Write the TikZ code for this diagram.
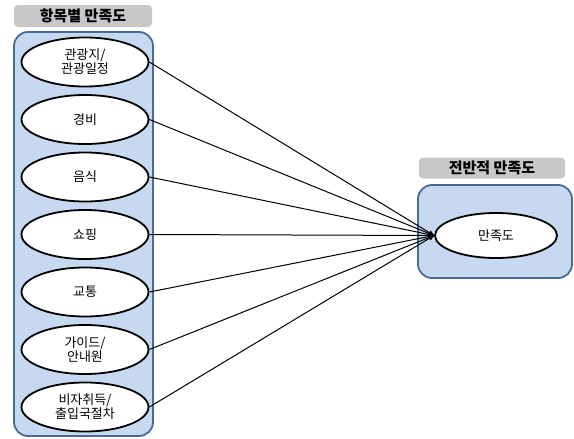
\documentclass[tikz,border=0pt]{standalone}
\usepackage{fontspec}
\setmainfont{Noto Sans CJK KR}
\usetikzlibrary{arrows,shapes.geometric}

\definecolor{boxblue}{RGB}{198,217,241}
\definecolor{boxline}{RGB}{74,106,150}
\definecolor{titlegray}{RGB}{200,200,200}

\begin{document}
\begin{tikzpicture}[->,>=stealth',x=1pt,y=1pt,node distance=57.5pt,line width=1pt]
   \tikzstyle{every node}=[font=\fontsize{13}{14}\selectfont]
   \tikzstyle{factor}=[ellipse,draw=black,line width=1.8pt,fill=white,minimum width=127pt,minimum height=49pt,inner sep=0pt,align=center]
   \tikzstyle{panel}=[rectangle,rounded corners=14pt,draw=boxline,line width=1.8pt,fill=boxblue]
   \tikzstyle{caption}=[rectangle,rounded corners=4pt,fill=titlegray,font=\fontsize{15}{17}\selectfont\bfseries]
   \useasboundingbox (0,0) rectangle (574,-439);

   % group boxes
   \node[caption,minimum width=138pt,minimum height=22pt] (cap1) at (83,-16) {항목별 만족도};
   \node[panel,minimum width=139pt,minimum height=404pt] (panel1) at (83.5,-234) {};
   \node[caption,minimum width=146pt,minimum height=21pt] (cap2) at (492,-168) {전반적 만족도};
   \node[panel,minimum width=154pt,minimum height=93pt] (panel2) at (495,-231.5) {};

   % factors
   \node[factor] (tour)  at (85,-62)      {관광지/\\관광일정};
   \node[factor] (cost)  [below of=tour]  {경비};
   \node[factor] (food)  [below of=cost]  {음식};
   \node[factor] (shop)  [below of=food]  {쇼핑};
   \node[factor] (trans) [below of=shop]  {교통};
   \node[factor] (guide) [below of=trans] {가이드/\\안내원};
   \node[factor] (visa)  [below of=guide] {비자취득/\\출입국절차};
   \node[factor,minimum width=122pt,minimum height=45pt] (satis) at (496,-235.5) {만족도};

   \path
     (tour.east)  edge (satis.west)
     (cost.east)  edge (satis.west)
     (food.east)  edge (satis.west)
     (shop.east)  edge (satis.west)
     (trans.east) edge (satis.west)
     (guide.east) edge (satis.west)
     (visa.east)  edge (satis.west);
\end{tikzpicture}
\end{document}
